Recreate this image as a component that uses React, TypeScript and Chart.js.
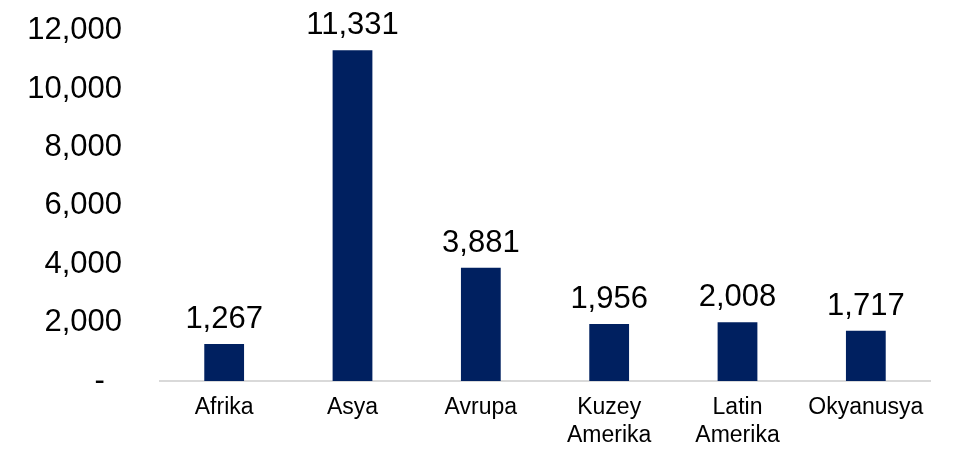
import React, { useEffect, useRef } from "react";
import { Chart, registerables } from "chart.js";

Chart.register(...registerables);

const categories: string[][] = [["Afrika"], ["Asya"], ["Avrupa"], ["Kuzey", "Amerika"], ["Latin", "Amerika"], ["Okyanusya"]];
const values: number[] = [1267, 11331, 3881, 1956, 2008, 1717];
const yMax = 12000;
const yStep = 2000;

const FONT = "'Liberation Sans', Arial, sans-serif";
const SHIFT = 26;

const fmt = (v: number) => (v === 0 ? "-  " : v.toLocaleString("en-US"));

const dataLabels = {
  id: "dataLabels",
  afterDatasetsDraw(chart: any) {
    const ctx = chart.ctx;
    const meta = chart.getDatasetMeta(0);
    ctx.save();
    ctx.font = `31px ${FONT}`;
    ctx.fillStyle = "#000";
    ctx.textAlign = "center";
    ctx.textBaseline = "alphabetic";
    meta.data.forEach((bar: any, i: number) => {
      ctx.fillText(fmt(values[i]), bar.x, bar.y - 16);
    });
    ctx.restore();
  },
};

export default function App() {
  const ref = useRef<HTMLCanvasElement>(null);
  useEffect(() => {
    if (!ref.current) return;
    const chart = new Chart(ref.current, {
      type: "bar",
      data: {
        labels: categories,
        datasets: [
          {
            data: values,
            backgroundColor: "#002060",
            categoryPercentage: 1,
            barPercentage: 0.31,
          },
        ],
      },
      options: {
        animation: false,
        responsive: false,
        maintainAspectRatio: false,
        layout: { padding: { top: 2, right: 36, left: 0, bottom: 0 } },
        plugins: { legend: { display: false }, tooltip: { enabled: false } },
        scales: {
          x: {
            grid: { display: false, drawTicks: false },
            border: { display: true, color: "#d9d9d9", width: 2 },
            ticks: { color: "#000", font: { family: FONT, size: 23 }, padding: 13, maxRotation: 0 },
            afterFit: (s: any) => {
              s.height = 72;
            },
          },
          y: {
            min: 0,
            max: yMax,
            grid: { display: false, drawTicks: false },
            border: { display: false },
            ticks: {
              stepSize: yStep,
              color: "#000",
              font: { family: FONT, size: 31 },
              padding: 38,
              callback: (v: any) => fmt(Number(v)),
            },
            afterFit: (s: any) => {
              s.width = 160;
            },
          },
        },
      },
      plugins: [dataLabels],
    });
    return () => chart.destroy();
  }, []);
  return (
    <div style={{ position: "fixed", left: 0, top: 0, width: 966, height: 453, background: "#fff", overflow: "hidden" }}>
      <canvas ref={ref} width={966} height={453 + SHIFT} style={{ position: "absolute", left: 0, top: -SHIFT }} />
    </div>
  );
}
